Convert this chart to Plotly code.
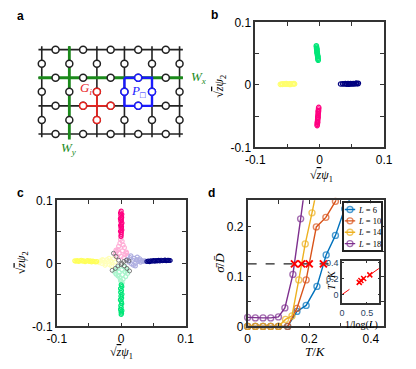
import plotly.graph_objects as go

W, H = 416, 369

# ---------------- panel a: lattice ----------------
LAT_COLS = [0, 1, 2, 3, 4, 5]
LAT_ROWS = [0, 1, 2, 3]
WX_ROW = 1
WY_COL = 1
G_SITE = (2, 2)
P_CORNER = (3, 1)

# ---------------- panel b: ordered phase clouds ----------------
B_GREEN_X = [-0.0052, -0.0049, -0.0047, -0.0044, -0.0042, -0.0040, -0.0037, -0.0035,
             -0.0032, -0.0030, -0.0027, -0.0025, -0.0023, -0.0046, -0.0039, -0.0029]
B_GREEN_Y = [0.0625, 0.0605, 0.0585, 0.0565, 0.0545, 0.0525, 0.0505, 0.0485,
             0.0465, 0.0445, 0.0425, 0.0410, 0.0395, 0.0575, 0.0515, 0.0455]
B_PINK_X = [-0.0015, -0.0017, -0.0019, -0.0021, -0.0023, -0.0025, -0.0027, -0.0029,
            -0.0031, -0.0033, -0.0035, -0.0037, -0.0039, -0.0020, -0.0028, -0.0034]
B_PINK_Y = [-0.0360, -0.0385, -0.0410, -0.0435, -0.0460, -0.0485, -0.0510, -0.0535,
            -0.0560, -0.0585, -0.0610, -0.0630, -0.0650, -0.0420, -0.0520, -0.0600]
B_YEL_X = [-0.0610, -0.0590, -0.0570, -0.0550, -0.0530, -0.0510, -0.0490, -0.0470,
           -0.0450, -0.0430, -0.0410, -0.0390, -0.0580, -0.0520, -0.0460, -0.0400]
B_YEL_Y = [0.0010, 0.0015, 0.0012, 0.0018, 0.0014, 0.0016, 0.0011, 0.0017,
           0.0013, 0.0019, 0.0015, 0.0016, 0.0008, 0.0021, 0.0009, 0.0020]
B_NAVY_X = [0.0325, 0.0355, 0.0380, 0.0400, 0.0420, 0.0440, 0.0460, 0.0480, 0.0500,
            0.0520, 0.0540, 0.0560, 0.0580, 0.0600, 0.0450, 0.0510, 0.0570]
B_NAVY_Y = [0.0015, 0.0018, 0.0016, 0.0020, 0.0014, 0.0022, 0.0017, 0.0021, 0.0019,
            0.0023, 0.0018, 0.0024, 0.0021, 0.0025, 0.0012, 0.0015, 0.0027]

# ---------------- panel c: near-transition clouds ----------------
C_PINK_X = [0.0000, -0.0010, 0.0010, -0.0005, 0.0008, -0.0012, 0.0004, -0.0006, 0.0012,
            0.0000, -0.0009, 0.0006, -0.0003, 0.0010, -0.0011, 0.0002, 0.0000, -0.0004]
C_PINK_Y = [0.083, 0.080, 0.078, 0.076, 0.073, 0.071, 0.069, 0.067, 0.064,
            0.062, 0.060, 0.058, 0.056, 0.053, 0.051, 0.049, 0.046, 0.043]
C_PINK_L_X = [0.0005, -0.0010, 0.0015, -0.0020, 0.0030, -0.0040, 0.0050, -0.0050, 0.0020, -0.0070,
              0.0080, -0.0030, 0.0060, -0.0090, 0.0100, 0.0000, -0.0060, 0.0040, 0.0085, -0.0080]
C_PINK_L_Y = [0.042, 0.038, 0.035, 0.032, 0.029, 0.027, 0.025, 0.022, 0.020, 0.019,
              0.018, 0.016, 0.014, 0.015, 0.012, 0.011, 0.010, 0.009, 0.016, 0.021]
C_GREEN_X = [0.0000, 0.0010, -0.0010, 0.0005, -0.0008, 0.0012, -0.0004, 0.0007, -0.0012,
             0.0003, 0.0009, -0.0006, 0.0001, -0.0010, 0.0011, -0.0002, 0.0006, 0.0000]
C_GREEN_Y = [-0.034, -0.037, -0.040, -0.043, -0.046, -0.049, -0.052, -0.055, -0.058,
             -0.061, -0.064, -0.067, -0.070, -0.073, -0.075, -0.077, -0.079, -0.081]
C_GREEN_L_X = [0.0040, -0.0060, 0.0080, -0.0090, 0.0010, 0.0060, -0.0030, 0.0100, -0.0080, 0.0020,
               -0.0050, 0.0070, -0.0020, 0.0030, -0.0010, 0.0000, 0.0015, -0.0040, 0.0090, -0.0100]
C_GREEN_L_Y = [-0.005, -0.007, -0.009, -0.011, -0.010, -0.013, -0.014, -0.016, -0.017, -0.018,
               -0.020, -0.021, -0.023, -0.025, -0.027, -0.029, -0.031, -0.019, -0.012, -0.014]
C_YEL_X = [-0.072, -0.070, -0.068, -0.066, -0.064, -0.062, -0.060, -0.058, -0.056,
           -0.054, -0.052, -0.050, -0.048, -0.046, -0.044, -0.042, -0.040, -0.038]
C_YEL_Y = [0.0040, 0.0035, 0.0045, 0.0030, 0.0040, 0.0050, 0.0035, 0.0042, 0.0028,
           0.0038, 0.0046, 0.0032, 0.0040, 0.0025, 0.0036, 0.0030, 0.0022, 0.0028]
C_YEL_L_X = [-0.036, -0.034, -0.032, -0.030, -0.028, -0.026, -0.024, -0.022, -0.020,
             -0.018, -0.016, -0.014, -0.012, -0.010, -0.025, -0.019, -0.015, -0.029]
C_YEL_L_Y = [0.0030, 0.0010, 0.0040, 0.0000, 0.0050, 0.0020, -0.0010, 0.0060, 0.0030,
             -0.0020, 0.0040, 0.0010, 0.0070, 0.0020, -0.0030, 0.0080, -0.0040, 0.0060]
C_NAVY_X = [0.040, 0.042, 0.044, 0.046, 0.048, 0.050, 0.052, 0.054, 0.056, 0.058,
            0.060, 0.062, 0.064, 0.066, 0.068, 0.070, 0.072, 0.074, 0.076]
C_NAVY_Y = [0.0030, 0.0038, 0.0028, 0.0042, 0.0034, 0.0046, 0.0036, 0.0044, 0.0040, 0.0048,
            0.0038, 0.0050, 0.0042, 0.0046, 0.0052, 0.0044, 0.0050, 0.0048, 0.0046]
C_NAVY_L_X = [0.010, 0.012, 0.014, 0.016, 0.018, 0.020, 0.022, 0.024, 0.026, 0.028,
              0.030, 0.032, 0.034, 0.036, 0.038, 0.019, 0.025, 0.015, 0.029, 0.022]
C_NAVY_L_Y = [0.0060, 0.0020, 0.0090, -0.0010, 0.0050, 0.0080, 0.0000, 0.0060, 0.0030, 0.0050,
              0.0020, 0.0045, 0.0030, 0.0040, 0.0035, -0.0030, 0.0100, 0.0120, 0.0070, -0.0040]
C_GRAY_X = [-0.012, -0.008, -0.004, 0.001, 0.005, 0.009, 0.013,
            -0.014, -0.009, -0.005, 0.004, 0.008, 0.012, 0.000]
C_GRAY_Y = [0.016, 0.011, 0.005, 0.000, -0.004, -0.008, -0.012,
            -0.011, -0.008, -0.004, 0.003, 0.005, 0.004, -0.002]

# ---------------- panel d: sigma/D vs T/K ----------------
L_LABELS = ["6", "10", "14", "18"]
T_L6 = [0, 0.025, 0.05, 0.075, 0.1, 0.13, 0.16, 0.19, 0.225, 0.255, 0.285, 0.315, 0.345]
S_L6 = [0, 0, 0, 0, 0, 0, 0.030, 0.042, 0.080, 0.143, 0.182, 0.235, 0.270]
T_L10 = [0, 0.025, 0.05, 0.075, 0.1, 0.13, 0.16, 0.19, 0.223, 0.254, 0.285, 0.316]
S_L10 = [0, 0, 0, 0, 0, 0, 0.036, 0.093, 0.199, 0.218, 0.250, 0.300]
T_L14 = [0, 0.025, 0.05, 0.075, 0.1, 0.123, 0.144, 0.166, 0.187, 0.209, 0.23]
S_L14 = [0, 0, 0, 0, 0, 0.014, 0.021, 0.093, 0.165, 0.227, 0.290]
T_L18 = [0, 0.025, 0.05, 0.075, 0.1, 0.121, 0.147, 0.172, 0.197]
S_L18 = [0.018, 0.017, 0.017, 0.017, 0.019, 0.037, 0.104, 0.215, 0.330]
T_STAR = [0.246, 0.200, 0.175, 0.152]
SIGMA_CUT = 0.125
CUT_X = [0, 0.27]
INV_LOG_L = [0.558, 0.434, 0.379, 0.346]
FIT_X = [0, 0.75]
FIT_Y = [0, 0.33]

C_BLUE, C_ORANGE, C_YELLOW, C_PURPLE = "#0072BD", "#D95319", "#EDB120", "#7E2F8E"
GREEN_A, RED_A, BLUE_A = "#1b8a1b", "#e8231f", "#1a1aff"
SERIF = "Liberation Serif"
SANS = "Liberation Sans"
AX = "#333333"


def px_x(p):
    return p / W


def px_y(p):
    return 1 - p / H


def frame(anchor, **kw):
    d = dict(anchor=anchor, showline=True, mirror="ticks", linecolor=AX, linewidth=1.5,
             ticks="inside", ticklen=4, tickwidth=1, tickcolor=AX,
             zeroline=False, showgrid=False, fixedrange=True,
             tickfont=dict(family=SANS, size=12, color="black"))
    d.update(kw)
    return d


fig = go.Figure()

# ---- panel a ----
ov = 0.12
hx, hy = [], []
for r in LAT_ROWS:
    hx += [LAT_COLS[0] - ov, LAT_COLS[-1] + ov, None]
    hy += [r, r, None]
vx, vy = [], []
for c in LAT_COLS:
    vx += [c, c, None]
    vy += [LAT_ROWS[0] - ov, LAT_ROWS[-1] + ov, None]
line_a = dict(xaxis="x", yaxis="y", mode="lines", showlegend=False, hoverinfo="skip")
fig.add_trace(go.Scatter(x=hx + vx, y=hy + vy, line=dict(color="#222", width=1.6), **line_a))
fig.add_trace(go.Scatter(x=[LAT_COLS[0] - ov, LAT_COLS[-1] + ov, None, WY_COL, WY_COL],
                         y=[WX_ROW, WX_ROW, None, LAT_ROWS[0] - ov, LAT_ROWS[-1] + 0.2],
                         line=dict(color=GREEN_A, width=2.8), **line_a))
gc, gr = G_SITE
fig.add_trace(go.Scatter(x=[gc - 0.5, gc + 0.5, None, gc, gc],
                         y=[gr, gr, None, gr - 0.5, gr + 0.5],
                         line=dict(color=RED_A, width=1.8), **line_a))
pc, pr = P_CORNER
fig.add_trace(go.Scatter(x=[pc, pc + 1, pc + 1, pc, pc], y=[pr, pr, pr + 1, pr + 1, pr],
                         line=dict(color=BLUE_A, width=2.4), **line_a))
bx = [c + 0.5 for r in LAT_ROWS for c in LAT_COLS[:-1]] + [c for r in LAT_ROWS[:-1] for c in LAT_COLS]
by = [r for r in LAT_ROWS for c in LAT_COLS[:-1]] + [r + 0.5 for r in LAT_ROWS[:-1] for c in LAT_COLS]
spin = dict(xaxis="x", yaxis="y", mode="markers", showlegend=False, hoverinfo="skip")
fig.add_trace(go.Scatter(x=bx, y=by, marker=dict(size=7, color="white",
                                                 line=dict(color="#222", width=1.5)), **spin))
fig.add_trace(go.Scatter(x=[gc - 0.5, gc + 0.5, gc, gc], y=[gr, gr, gr - 0.5, gr + 0.5],
                         marker=dict(size=7, color="white", line=dict(color=RED_A, width=1.5)), **spin))
fig.add_trace(go.Scatter(x=[pc + 0.5, pc + 0.5, pc, pc + 1], y=[pr, pr + 1, pr + 0.5, pr + 0.5],
                         marker=dict(size=7, color="white", line=dict(color=BLUE_A, width=1.5)), **spin))


# ---- panels b and c ----
def cloud(x, y, color, ax, size=4, lw=1.2):
    fig.add_trace(go.Scatter(x=x, y=y, mode="markers", xaxis="x" + ax, yaxis="y" + ax,
                             showlegend=False, hoverinfo="skip",
                             marker=dict(symbol="circle-open", size=size, color=color,
                                         line=dict(width=lw, color=color))))


cloud(B_GREEN_X, B_GREEN_Y, "rgb(0,230,120)", "2", 4.5)
cloud(B_PINK_X, B_PINK_Y, "rgb(255,0,128)", "2", 4.5)
cloud(B_YEL_X, B_YEL_Y, "rgb(255,255,110)", "2", 4.5)
cloud(B_NAVY_X, B_NAVY_Y, "rgb(0,0,128)", "2", 4.5)

cloud(C_PINK_L_X, C_PINK_L_Y, "rgb(255,175,215)", "3")
cloud(C_GREEN_L_X, C_GREEN_L_Y, "rgb(170,245,205)", "3")
cloud(C_YEL_L_X, C_YEL_L_Y, "rgb(255,255,185)", "3")
cloud(C_NAVY_L_X, C_NAVY_L_Y, "rgb(175,175,225)", "3")
cloud(C_PINK_X, C_PINK_Y, "rgb(255,0,128)", "3")
cloud(C_GREEN_X, C_GREEN_Y, "rgb(0,230,120)", "3")
cloud(C_YEL_X, C_YEL_Y, "rgb(255,255,90)", "3")
cloud(C_NAVY_X, C_NAVY_Y, "rgb(0,0,128)", "3")
cloud(C_GRAY_X, C_GRAY_Y, "rgb(95,95,95)", "3", 4, 0.8)

# ---- panel d ----
fig.add_trace(go.Scatter(x=CUT_X, y=[SIGMA_CUT] * 2, mode="lines", xaxis="x4", yaxis="y4",
                         line=dict(color="#222", width=1.4, dash="dash"),
                         showlegend=False, hoverinfo="skip"))
series = [(T_L6, S_L6, C_BLUE), (T_L10, S_L10, C_ORANGE),
          (T_L14, S_L14, C_YELLOW), (T_L18, S_L18, C_PURPLE)]
for (t, s, col), lab in zip(series, L_LABELS):
    sizes = [6 if v <= 0.25 else 0 for v in s]
    fig.add_trace(go.Scatter(x=t, y=s, mode="lines+markers", xaxis="x4", yaxis="y4",
                             name="L = " + lab, showlegend=False, cliponaxis=False,
                             line=dict(color=col, width=1.4),
                             marker=dict(symbol="circle-open", size=sizes, color=col,
                                         line=dict(width=1.4, color=col))))
fig.add_trace(go.Scatter(x=T_STAR, y=[SIGMA_CUT] * len(T_STAR), mode="markers",
                         xaxis="x4", yaxis="y4", showlegend=False, hoverinfo="skip",
                         marker=dict(symbol="x-thin", size=7, line=dict(color="red", width=2))))

# inset
fig.add_trace(go.Scatter(x=FIT_X, y=FIT_Y, mode="lines", xaxis="x5", yaxis="y5",
                         line=dict(color="red", width=1, dash="dash"),
                         showlegend=False, hoverinfo="skip"))
fig.add_trace(go.Scatter(x=INV_LOG_L, y=T_STAR, mode="markers", xaxis="x5", yaxis="y5",
                         showlegend=False, hoverinfo="skip",
                         marker=dict(symbol="x-thin", size=5, line=dict(color="red", width=1.5))))

# hand-made compact legend
for i, (lab, (_, _, col)) in enumerate(zip(L_LABELS, series)):
    fig.add_trace(go.Scatter(x=[0.02, 0.16, 0.3], y=[i, i, i], mode="lines+markers",
                             xaxis="x6", yaxis="y6", showlegend=False, hoverinfo="skip",
                             line=dict(color=col, width=1.4),
                             marker=dict(symbol="circle-open", size=[0, 6, 0], color=col,
                                         line=dict(width=1.4, color=col))))

ann = []


def text(x, y, s, size=12, family=SANS, color="black", angle=0, xanchor="center",
         xref="paper", yref="paper"):
    ann.append(dict(x=x, y=y, xref=xref, yref=yref, text=s, showarrow=False,
                    textangle=angle, xanchor=xanchor, yanchor="middle",
                    font=dict(family=family, size=size, color=color)))


for lab, (xp, yp) in zip("abcd", [(11, 9), (214, 8), (11, 193), (211, 193)]):
    text(px_x(xp), px_y(yp), "<b>%s</b>" % lab, size=12)

sqz = "√<span style='text-decoration:overline'><i>z</i></span>"
text(px_x(326), px_y(176), sqz + "<i>ψ</i><sub>1</sub>", 12, SERIF)
text(px_x(220), px_y(82), sqz + "<i>ψ</i><sub>2</sub>", 12, SERIF, angle=-90)
text(px_x(117), px_y(360), sqz + "<i>ψ</i><sub>1</sub>", 12, SERIF)
text(px_x(13), px_y(266), sqz + "<i>ψ</i><sub>2</sub>", 12, SERIF, angle=-90)
text(px_x(320), px_y(358), "<i>T</i>/<i>K</i>", 13, SERIF)
text(px_x(220), px_y(266), "<i>σ̄</i>/<i>D̄</i>", 13, SERIF, angle=-90)
text(px_x(336), px_y(284), "<i>T</i><sup>*</sup>/<i>K</i>", 10, SERIF, angle=-90)
text(px_x(368), px_y(331), "1/log(<i>L</i>)", 10, SERIF)

text(5.35, WX_ROW, "<i>W</i><sub><i>x</i></sub>", 13, SERIF, GREEN_A, xanchor="left", xref="x", yref="y")
text(WY_COL, 3.52, "<i>W</i><sub><i>y</i></sub>", 13, SERIF, GREEN_A, xref="x", yref="y")
text(gc - 0.38, gr - 0.62, "<i>G</i><sub><i>i</i></sub>", 13, SERIF, RED_A, xref="x", yref="y")
text(pc + 0.5, pr + 0.5, "<i>P</i><sub>□</sub>", 13, SERIF, BLUE_A, xref="x", yref="y")

for i, lab in enumerate(L_LABELS):
    text(0.31, i, "<i>L</i> = " + lab, 8.5, SERIF, xanchor="left", xref="x6", yref="y6")

hidden = dict(visible=False, fixedrange=True)
tv = [-0.1, -0.05, 0, 0.05, 0.1]
tt = ["-0.1", "", "0", "", "0.1"]
box6 = dict(showline=True, mirror=True, linecolor="#222", linewidth=1.5,
            showticklabels=False, ticks="", showgrid=False, zeroline=False, fixedrange=True)

fig.update_layout(
    width=W, height=H, margin=dict(l=0, r=0, t=0, b=0),
    paper_bgcolor="white", plot_bgcolor="white", showlegend=False,
    annotations=ann,
    xaxis=dict(domain=[px_x(20), px_x(195)], range=[-0.46, 5.6], anchor="y", **hidden),
    yaxis=dict(domain=[px_y(160), px_y(30)], range=[3.96, -0.49], anchor="x", **hidden),
    xaxis2=frame("y2", domain=[px_x(257), px_x(392)], range=[-0.1, 0.1], tickvals=tv, ticktext=tt),
    yaxis2=frame("x2", domain=[px_y(146), px_y(16)], range=[-0.1, 0.1], tickvals=tv, ticktext=tt),
    xaxis3=frame("y3", domain=[px_x(49), px_x(184)], range=[-0.1, 0.1], tickvals=tv, ticktext=tt),
    yaxis3=frame("x3", domain=[px_y(332), px_y(201)], range=[-0.1, 0.1], tickvals=tv, ticktext=tt),
    xaxis4=frame("y4", domain=[px_x(249), px_x(392)], range=[0, 0.443],
                 tickvals=[0, 0.1, 0.2, 0.3, 0.4], ticktext=["0", "", "0.2", "", "0.4"]),
    yaxis4=frame("x4", domain=[px_y(332), px_y(201)], range=[0, 0.252],
                 tickvals=[0, 0.05, 0.1, 0.15, 0.2, 0.25], ticktext=["0", "", "0.1", "", "0.2", ""]),
    xaxis5=frame("y5", domain=[px_x(348), px_x(387)], range=[0, 0.75], tickvals=[0, 0.5],
                 ticktext=["0", "0.5"], ticklen=2, tickfont=dict(family=SANS, size=9)),
    yaxis5=frame("x5", domain=[px_y(308), px_y(264)], range=[-0.11, 0.42], tickvals=[0, 0.2, 0.4],
                 ticktext=["0", "0.2", "0.4"], ticklen=2, tickfont=dict(family=SANS, size=9)),
    xaxis6=dict(domain=[px_x(350), px_x(389)], range=[0, 1], anchor="y6", **box6),
    yaxis6=dict(domain=[px_y(253), px_y(204)], range=[3.6, -0.55], anchor="x6", **box6),
)

fig.write_html("out.html", config={"displayModeBar": False},
               post_script="document.body.style.margin='0';document.body.style.overflow='hidden';")
